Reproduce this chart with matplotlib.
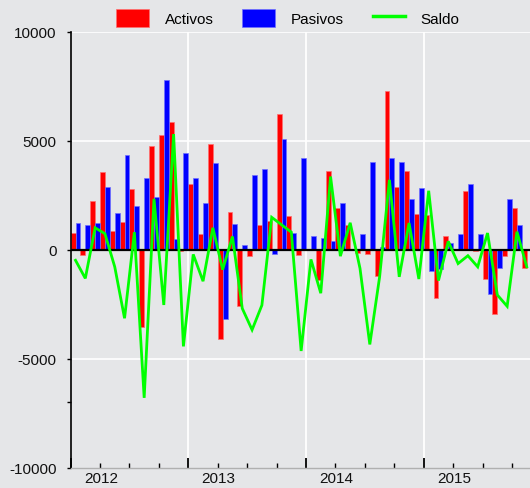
import matplotlib
matplotlib.use("Agg")
import matplotlib.pyplot as plt
from matplotlib.patches import Patch
from matplotlib.lines import Line2D
import numpy as np

plt.rcParams['font.family'] = ['Liberation Sans', 'DejaVu Sans']
plt.rcParams['axes.unicode_minus'] = False

# Monthly data, Jan 2012 .. Nov 2015
activos = [775, -230, 2220, 3560, 850, 1280, 2800, -3540, 4730, 5240, 5870, -80,
           3020, 730, 4860, -4090, 1720, -2580, -290, 1110, 1310, 6220, 1550, -230,
           50, -1400, 3590, 1910, 1140, -150, -200, -1200, 7290, 2860, 3590, 1640,
           1570, -2200, 620, 30, 2670, -80, -1370, -2950, -290, 1900, -840]
pasivos = [1230, 1140, 1230, 2860, 1670, 4350, 1980, 3300, 2420, 7800, 490, 4450,
           3270, 2130, 3970, -3180, 1190, 200, 3430, 3680, -200, 5080, 760, 4220,
           610, 550, 400, 2160, 50, 700, 4010, 120, 4220, 4000, 2330, 2830,
           -990, -870, 320, 700, 2990, 730, -2040, -840, 2330, 1140, 0]
saldo = [-490, -1320, 1000, 730, -790, -3150, 800, -6800, 2330, -2540, 5300, -4440,
         -220, -1450, 1000, -920, 600, -2700, -3680, -2550, 1480, 1140, 800, -4650,
         -450, -2000, 3350, -300, 1230, -860, -4350, -1250, 3200, -1250, 1220, -1350,
         2700, -1420, 380, -640, -280, -790, 760, -2080, -2600, 820, -790]
years = ['2012', '2013', '2014', '2015']
ytick_vals = [10000, 5000, 0, -5000, -7000, -10000]
ytick_labels = ['10000', '5000', '0', '-5000', '', '-10000']

bg = '#e5e6e8'
fig = plt.figure(figsize=(5.30, 4.89), dpi=100, facecolor=bg)
ax = fig.add_axes([70.6 / 530, 20.4 / 489, 1 - 70.6 / 530, 436 / 489], facecolor=bg)

n = len(activos)
x = np.arange(n)

# grid
for yv in [10000, 5000, -5000]:
    ax.axhline(yv, color='white', lw=1.2, zorder=0.5)
for xv in [12, 24, 36]:
    ax.axvline(xv, color='white', lw=1.3, zorder=0.5)

ax.bar(x, activos, width=0.5, align='edge', color='#ff0000',
       edgecolor='#ff7070', linewidth=0.5, zorder=2)
ax.bar(x + 0.5, pasivos, width=0.5, align='edge', color='#0000ff',
       edgecolor='#7070ff', linewidth=0.5, zorder=2)
ax.axhline(0, color='black', lw=1.6, zorder=3)
ax.plot(x + 0.5, saldo, color='#00ff00', lw=2.0, zorder=4, solid_joinstyle='miter')

ax.set_xlim(0, (530 - 70.6) / 9.81)
ax.set_ylim(-10000, 10000)

ax.set_yticks(ytick_vals)
ax.set_yticklabels(ytick_labels)
ax.tick_params(axis='y', direction='out', length=3, width=1, color='black',
               labelsize=11, pad=7, labelcolor='#111111')

ax.set_xticks([0, 12, 24, 36])
ax.set_xticklabels([])
ax.set_xticks(np.arange(0, 48, 3), minor=True)
ax.tick_params(axis='x', which='major', direction='in', length=7, width=1.3, color='black')
ax.tick_params(axis='x', which='minor', direction='in', length=3.5, width=1, color='black')

for k, yl in enumerate(years):
    ax.text(3.1 + 12 * k, -0.024, yl, transform=ax.get_xaxis_transform(),
            ha='center', va='center', fontsize=11, color='#111111')

for s in ['top', 'right']:
    ax.spines[s].set_visible(False)
ax.spines['left'].set_color('black')
ax.spines['left'].set_linewidth(1.2)
ax.spines['bottom'].set_color('#b0b0b0')
ax.spines['bottom'].set_linewidth(1.0)

handles = [Patch(facecolor='#ff0000', edgecolor='#ff7070', lw=0.5),
           Patch(facecolor='#0000ff', edgecolor='#7070ff', lw=0.5),
           Line2D([0], [0], color='#00ff00', lw=2.5)]
fig.legend(handles, ['Activos', 'Pasivos', 'Saldo'], loc='center',
           bbox_to_anchor=(288 / 530, 1 - 19 / 489), ncol=3, frameon=False,
           fontsize=11, handlelength=2.15, handleheight=1.5,
           handletextpad=1.0, columnspacing=1.9)

fig.savefig('out.png', dpi=100, facecolor=bg)
